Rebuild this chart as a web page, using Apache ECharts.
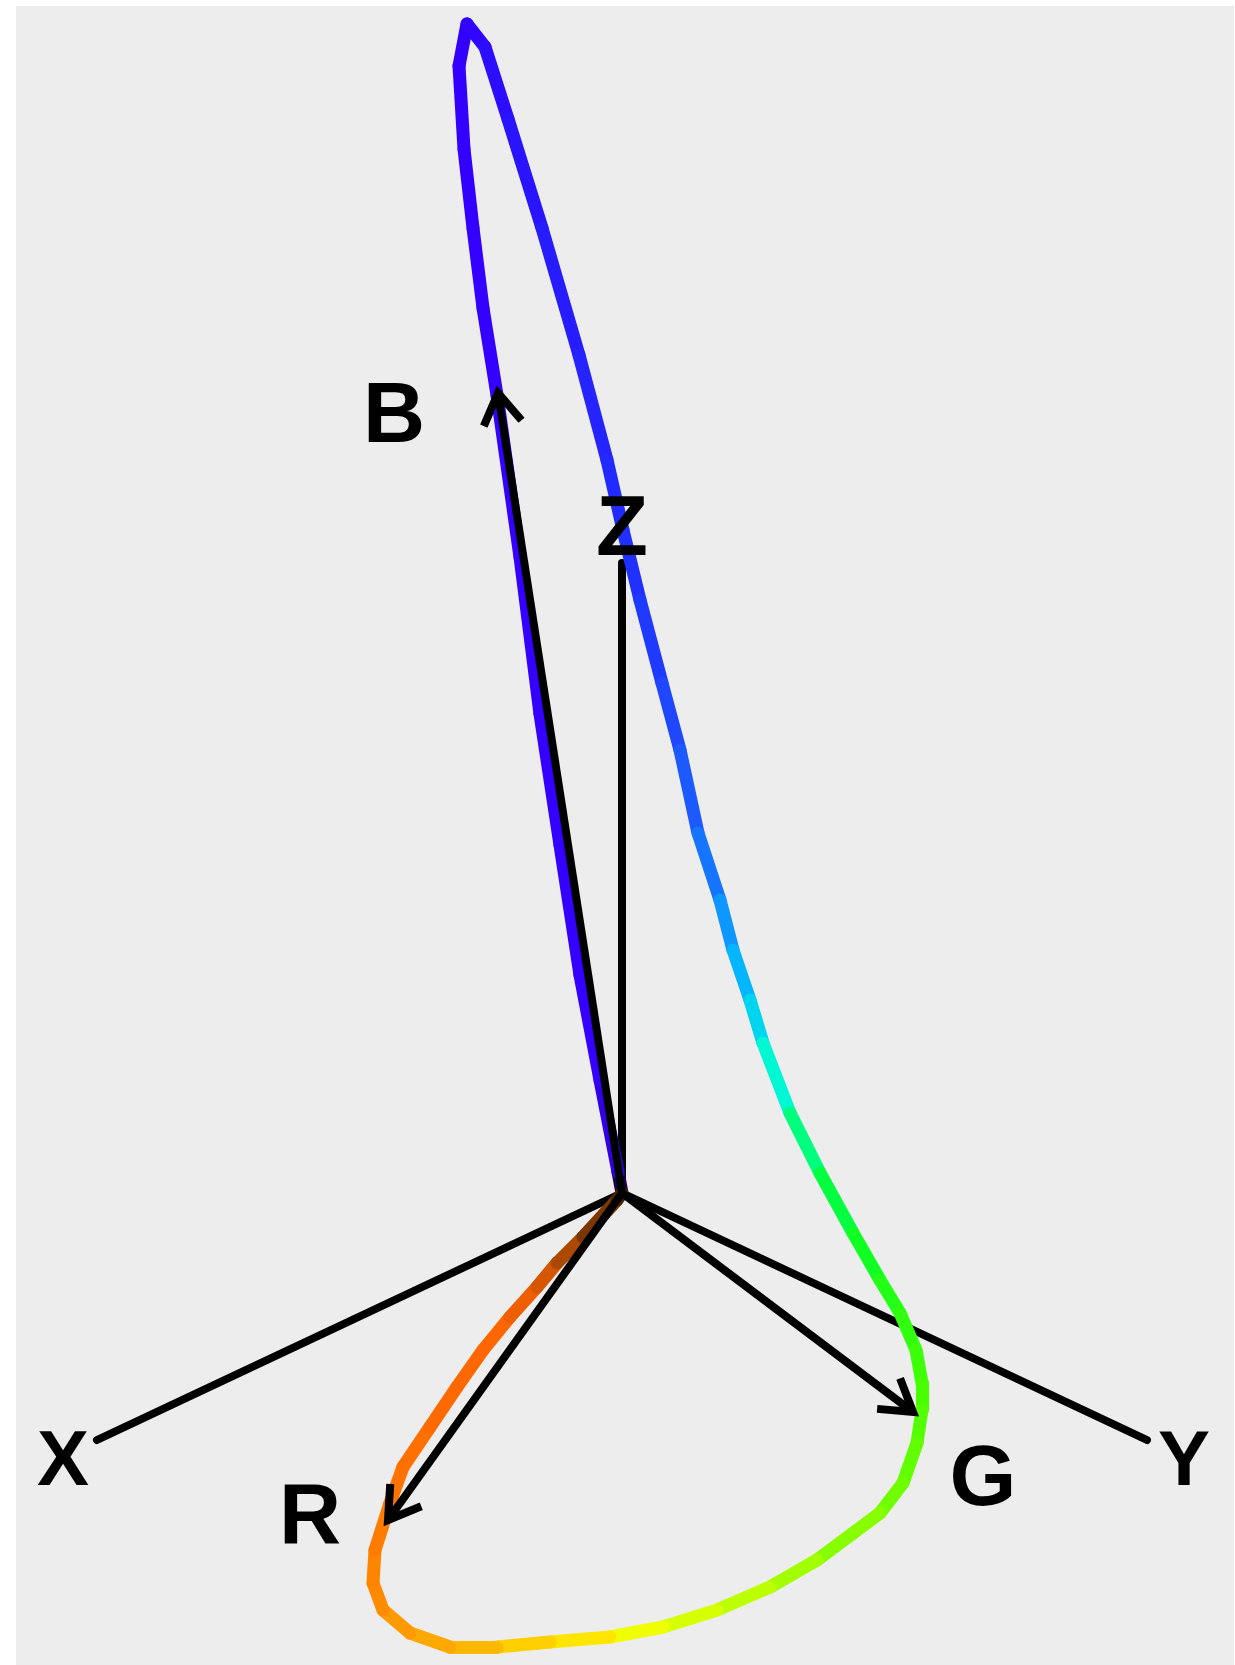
<!DOCTYPE html>
<html>
<head>
<meta charset="utf-8">
<script src="https://cdn.jsdelivr.net/npm/echarts/dist/echarts.min.js"></script>
<style>
  html, body { margin: 0; background: #fff; }
  #chart { width: 1235px; height: 1665px; }
</style>
</head>
<body>
<div id="chart"></div>
<script>
// projected frame: origin where the axes meet, y up
const axisNames = ['X', 'Y', 'Z']
const axisEndX = [-525, 525, 0]
const axisEndY = [-247, -247, 630]

const primaryNames = ['R', 'G', 'B']
const primaryTipX = [-234, 291, -124]
const primaryTipY = [-327, -219, 800]

// spectral locus, violet end -> red end
const curveNm = [380, 400, 410, 414, 418, 421, 424, 427, 430, 433, 436, 439, 442, 445, 448, 451,
  454, 457, 459, 461, 464, 467, 470, 474, 478, 482, 486, 492, 500, 508, 514, 518, 522, 526, 530,
  535, 540, 546, 553, 560, 567, 574, 581, 588, 595, 601, 607, 613, 619, 625, 632, 638, 645, 652,
  660, 668, 676, 684, 694, 710, 780]
const curveX = [0, -4, -22, -42, -62, -82, -102, -125, -139, -149, -158, -163, -155, -137, -114, -80,
  -43, -15, 1, 18, 40, 58, 76, 98, 111, 128, 141, 168, 198, 231, 258, 278, 294, 300, 300,
  295, 281, 258, 195, 148, 95, 41, -12, -72, -125, -172, -212, -239, -249, -247, -232, -219, -192, -165,
  -139, -112, -85, -65, -39, -5, 0]
const curveY = [0, 21, 113, 218, 348, 479, 636, 798, 885, 965, 1044, 1127, 1169, 1146, 1074, 965,
  838, 733, 663, 593, 510, 443, 360, 293, 243, 193, 150, 80, 20, -40, -87, -120, -157, -190, -217,
  -250, -290, -320, -367, -394, -417, -434, -444, -449, -454, -454, -440, -417, -390, -357, -310, -274, -234, -194,
  -157, -124, -94, -70, -44, -7, 0]

// colour ramp used for the locus
const spectrumStops = [
  [380, '#1a0050'], [398, '#3000e0'], [405, '#3500ff'], [440, '#3300ff'], [448, '#2a14ff'],
  [459, '#2030ff'], [466, '#1e50ff'], [472, '#1288ff'], [480, '#00c4ff'], [487, '#00ffcc'],
  [494, '#00ff60'], [505, '#08ff28'], [518, '#30ff10'], [526, '#48ff00'], [540, '#70ff00'],
  [553, '#a2ff00'], [567, '#d6ff00'], [576, '#f6ff00'], [581, '#ffe600'], [595, '#ffb800'],
  [613, '#ff8c00'], [630, '#ff7600'], [645, '#ff6a00'], [662, '#ff6600'], [676, '#d45600'],
  [694, '#7c3600'], [720, '#301800'], [780, '#201000']
]

function hexToRgb (h) {
  return [1, 3, 5].map(i => parseInt(h.substr(i, 2), 16))
}
function spectrum (nm) {
  for (let i = 0; i < spectrumStops.length - 1; i++) {
    const a = spectrumStops[i]
    const b = spectrumStops[i + 1]
    if (nm >= a[0] && nm <= b[0]) {
      const t = (nm - a[0]) / (b[0] - a[0])
      const ca = hexToRgb(a[1])
      const cb = hexToRgb(b[1])
      const c = ca.map((v, k) => Math.round(v + (cb[k] - v) * t))
      return 'rgb(' + c.join(',') + ')'
    }
  }
  return spectrumStops[spectrumStops.length - 1][1]
}

const curveSegments = []
for (let i = 0; i < curveNm.length - 1; i++) {
  curveSegments.push({
    coords: [[curveX[i], curveY[i]], [curveX[i + 1], curveY[i + 1]]],
    lineStyle: { color: spectrum(curveNm[i]) }
  })
}

const axisLines = axisNames.map((n, i) => ({
  coords: [[0, 0], [axisEndX[i], axisEndY[i]]]
}))

// arrows: shaft plus an open V head
const headLen = 36
const headAngle = 32 * Math.PI / 180
const arrowLines = []
primaryNames.forEach((n, i) => {
  const tx = primaryTipX[i]
  const ty = primaryTipY[i]
  arrowLines.push({ coords: [[0, 0], [tx, ty]] })
  const len = Math.sqrt(tx * tx + ty * ty)
  const ux = -tx / len
  const uy = -ty / len
  const rot = (a) => [tx + headLen * (ux * Math.cos(a) - uy * Math.sin(a)),
    ty + headLen * (ux * Math.sin(a) + uy * Math.cos(a))]
  arrowLines.push({ coords: [rot(headAngle), [tx, ty], rot(-headAngle)] })
})

const labelFont = {
  show: true,
  position: 'inside',
  color: '#000',
  opacity: 1,
  fontFamily: '"Liberation Sans", Arial, sans-serif',
  fontWeight: 'bold'
}
const axisLabelOffset = [[-34, 23], [37, 23], [0, -31]]
const primaryLabelOffset = [[-78, -1], [70, 69], [-104, 25]]
const labelData = []
axisNames.forEach((n, i) => {
  labelData.push({
    value: [axisEndX[i], axisEndY[i]],
    label: Object.assign({}, labelFont, { formatter: n, fontSize: n === 'Z' ? 85 : 78, offset: axisLabelOffset[i] })
  })
})
primaryNames.forEach((n, i) => {
  labelData.push({
    value: [primaryTipX[i], primaryTipY[i]],
    label: Object.assign({}, labelFont, { formatter: n, fontSize: 86, offset: primaryLabelOffset[i] })
  })
})

const chart = echarts.init(document.getElementById('chart'))
chart.setOption({
  animation: false,
  grid: { left: 16, top: 6, right: 1, bottom: 0, show: true, backgroundColor: '#ededed', borderWidth: 0 },
  xAxis: { type: 'value', min: -606, max: 612, show: false },
  yAxis: { type: 'value', min: -472, max: 1187, show: false },
  series: [
    {
      type: 'lines',
      coordinateSystem: 'cartesian2d',
      z: 1,
      lineStyle: { color: '#000', width: 8, opacity: 1, cap: 'round' },
      data: axisLines
    },
    {
      type: 'lines',
      coordinateSystem: 'cartesian2d',
      z: 2,
      lineStyle: { width: 13, opacity: 1, cap: 'round', join: 'round' },
      data: curveSegments
    },
    {
      type: 'lines',
      coordinateSystem: 'cartesian2d',
      polyline: true,
      z: 3,
      lineStyle: { color: '#000', width: 8, opacity: 1, cap: 'butt', join: 'miter' },
      data: arrowLines
    },
    {
      type: 'scatter',
      z: 4,
      symbolSize: 0,
      itemStyle: { opacity: 1 },
      data: labelData
    }
  ]
})
</script>
</body>
</html>
